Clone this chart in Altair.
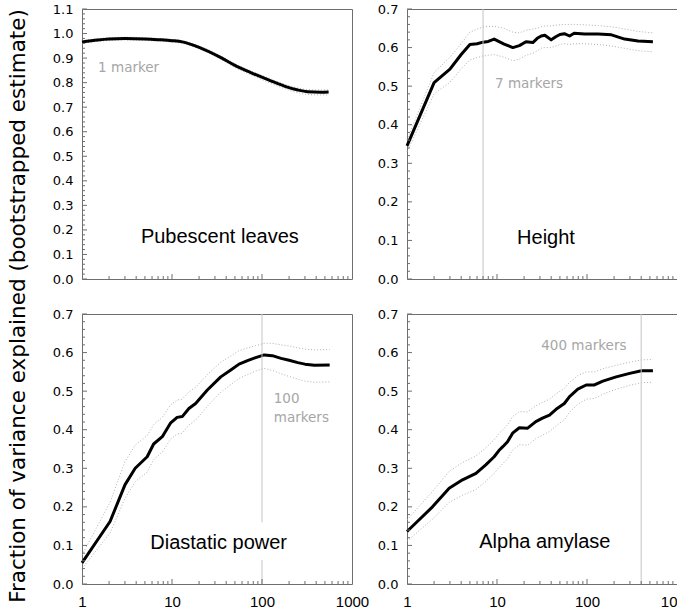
import altair as alt
import pandas as pd

# ---------------- data ----------------
# Pubescent leaves
pub_n = [1, 1.5, 2, 3, 5, 7, 10, 13, 20, 35, 50, 75, 120, 180, 250, 320, 450, 550]
pub_v = [0.966, 0.974, 0.978, 0.980, 0.978, 0.975, 0.971, 0.966, 0.944, 0.902, 0.870, 0.841,
         0.810, 0.785, 0.770, 0.763, 0.761, 0.762]
pub_lo = [0.960, 0.968, 0.972, 0.974, 0.972, 0.969, 0.965, 0.960, 0.938, 0.895, 0.862, 0.832,
          0.800, 0.775, 0.759, 0.752, 0.750, 0.750]
pub_hi = [0.971, 0.979, 0.983, 0.985, 0.983, 0.980, 0.976, 0.971, 0.950, 0.908, 0.877, 0.848,
          0.818, 0.793, 0.778, 0.772, 0.770, 0.771]

# Height
h_n = [1, 2, 3, 4, 5, 6, 7, 8, 9.3, 12, 15, 17.7, 21, 25, 28, 31, 34, 40, 45, 50, 56, 64, 72,
       94, 133, 187, 262, 369, 540]
h_v = [0.345, 0.509, 0.544, 0.582, 0.608, 0.610, 0.614, 0.616, 0.622, 0.609, 0.600, 0.605,
       0.615, 0.613, 0.624, 0.630, 0.632, 0.620, 0.628, 0.634, 0.636, 0.630, 0.637, 0.635,
       0.635, 0.633, 0.622, 0.617, 0.615]
h_lo = [0.330, 0.480, 0.510, 0.545, 0.568, 0.574, 0.578, 0.580, 0.582, 0.575, 0.566, 0.570,
        0.580, 0.585, 0.592, 0.598, 0.600, 0.600, 0.604, 0.608, 0.610, 0.608, 0.610, 0.610,
        0.608, 0.604, 0.598, 0.592, 0.589]
h_hi = [0.360, 0.535, 0.575, 0.610, 0.640, 0.648, 0.653, 0.655, 0.655, 0.650, 0.640, 0.638,
        0.645, 0.648, 0.650, 0.654, 0.656, 0.656, 0.658, 0.659, 0.660, 0.660, 0.660, 0.659,
        0.657, 0.654, 0.648, 0.642, 0.638]

# Diastatic power
d_n = [1, 2.05, 3.0, 3.9, 5.3, 6.25, 7.8, 9.6, 11.4, 13, 15.4, 18.3, 24.7, 34.8, 45, 55.6,
       69, 85, 106, 130, 163, 200, 250, 300, 383, 565]
d_v = [0.055, 0.162, 0.257, 0.300, 0.330, 0.363, 0.382, 0.417, 0.432, 0.434, 0.455, 0.468,
       0.503, 0.537, 0.555, 0.570, 0.579, 0.587, 0.594, 0.592, 0.585, 0.580, 0.574, 0.570,
       0.567, 0.568]
d_lo = [0.040, 0.132, 0.222, 0.265, 0.290, 0.323, 0.342, 0.375, 0.389, 0.391, 0.412, 0.425,
        0.461, 0.497, 0.517, 0.533, 0.543, 0.552, 0.559, 0.554, 0.545, 0.538, 0.531, 0.526,
        0.523, 0.524]
d_hi = [0.075, 0.212, 0.317, 0.360, 0.385, 0.413, 0.432, 0.464, 0.477, 0.479, 0.498, 0.510,
        0.543, 0.575, 0.591, 0.605, 0.612, 0.618, 0.624, 0.624, 0.620, 0.617, 0.612, 0.609,
        0.607, 0.608]

# Alpha amylase
a_n = [1, 1.92, 2.94, 4.14, 5.84, 7.5, 9.3, 10.5, 11.6, 13.1, 14.9, 17.7, 21.9, 27, 32, 38.3,
       45.3, 56, 64, 79, 98, 121, 150, 211, 298, 403, 540]
a_v = [0.136, 0.200, 0.248, 0.270, 0.287, 0.309, 0.330, 0.346, 0.356, 0.369, 0.391, 0.405,
       0.404, 0.421, 0.430, 0.438, 0.453, 0.468, 0.486, 0.505, 0.516, 0.516, 0.526, 0.537,
       0.546, 0.553, 0.553]
a_lo = [0.111, 0.168, 0.212, 0.230, 0.245, 0.266, 0.287, 0.302, 0.312, 0.325, 0.347, 0.361,
        0.360, 0.377, 0.386, 0.395, 0.410, 0.426, 0.445, 0.466, 0.479, 0.481, 0.492, 0.505,
        0.515, 0.522, 0.523]
a_hi = [0.166, 0.240, 0.292, 0.315, 0.332, 0.353, 0.374, 0.390, 0.400, 0.413, 0.434, 0.447,
        0.446, 0.462, 0.471, 0.479, 0.493, 0.507, 0.523, 0.540, 0.550, 0.550, 0.558, 0.567,
        0.575, 0.581, 0.582]

panel_names = ["Pubescent leaves", "Height", "Diastatic power", "Alpha amylase"]
name_n = [34, 35, 33, 34]
name_v = [0.145, 0.092, 0.091, 0.093]

notes = [["1 marker"], ["7 markers"], ["100", "markers"], ["400 markers"]]
note_n = [[1.51], [9.5], [135, 135], [31]]
note_v = [[0.844], [0.496], [0.468, 0.421], [0.607]]

# vertical marker-count lines (x, y from, y to)
rule_x = [[], [7], [100, 100], [400]]
rule_y0 = [[], [0.0], [0.16, 0.0], [0.0]]
rule_y1 = [[], [0.7], [0.7, 0.062], [0.7]]

y_max = [1.1, 0.7, 0.7, 0.7]
x_major_labels = [1, 10, 100, 1000]
x_major_ticks = [10, 100]
x_minor_ticks = [2, 3, 4, 5, 6, 7, 8, 9, 20, 30, 40, 50, 60, 70, 80, 90,
                 200, 300, 400, 500, 600, 700, 800, 900]

W, H = 270, 270
BOX = "#6e6e6e"


def panel(i, n, v, lo, hi, show_x, interp):
    ymax = y_max[i]
    n_major = int(round(ymax * 10))
    y_major = [round(k / 10, 1) for k in range(0, n_major + 1)]
    y_minor = [round(k / 50, 2) for k in range(0, n_major * 5 + 1) if k % 5 != 0]

    xs = alt.Scale(type="log", domain=[1, 1000], nice=False)
    ys = alt.Scale(domain=[0, ymax], nice=False, zero=False)

    if show_x:
        xaxis = alt.Axis(values=x_major_labels, format="d", labelFlush=False,
                         labelFont="Liberation Sans", labelFontSize=15, labelPadding=10,
                         title=None, grid=False, ticks=False, domain=False)
    else:
        xaxis = alt.Axis(values=x_major_labels, labels=False, title=None, grid=False,
                         ticks=False, domain=False)
    yaxis = alt.Axis(values=y_major, format=".1f", title=None, labelPadding=9,
                     grid=False, ticks=False, domain=False, labelFont="DejaVu Sans",
                     labelFontSize=13, labelColor="black")

    def X(f):
        return alt.X(f, scale=xs, axis=xaxis)

    def Y(f):
        return alt.Y(f, scale=ys, axis=yaxis)

    df = pd.DataFrame({"n": n, "v": v, "lo": lo, "hi": hi})
    base = alt.Chart(df)
    band_lo = base.mark_line(color="#b0b0b0", strokeDash=[1, 2], strokeWidth=1,
                             interpolate=interp).encode(x=X("n:Q"), y=Y("lo:Q"))
    band_hi = base.mark_line(color="#b0b0b0", strokeDash=[1, 2], strokeWidth=1,
                             interpolate=interp).encode(x=X("n:Q"), y=Y("hi:Q"))
    main = base.mark_line(color="black", strokeWidth=3, interpolate=interp,
                          strokeJoin="round").encode(x=X("n:Q"), y=Y("v:Q"))

    layers = [band_lo, band_hi, main]

    if rule_x[i]:
        rdf = pd.DataFrame({"x": rule_x[i], "y0": rule_y0[i], "y1": rule_y1[i]})
        layers.append(alt.Chart(rdf).mark_rule(color="#c4c4c4", strokeWidth=1).encode(
            x=X("x:Q"), y=Y("y0:Q"), y2="y1:Q"))

    # inward ticks on the y axis
    ymaj = pd.DataFrame({"t": y_major})
    ymin = pd.DataFrame({"t": y_minor})
    layers.append(alt.Chart(ymaj).mark_rule(color=BOX, strokeWidth=1).encode(
        y=Y("t:Q"), x=alt.value(0), x2=alt.value(5)))
    layers.append(alt.Chart(ymin).mark_rule(color=BOX, strokeWidth=1).encode(
        y=Y("t:Q"), x=alt.value(0), x2=alt.value(3)))
    # inward ticks on the x axis
    xmaj = pd.DataFrame({"t": x_major_ticks})
    xmin = pd.DataFrame({"t": x_minor_ticks})
    layers.append(alt.Chart(xmaj).mark_rule(color=BOX, strokeWidth=1).encode(
        x=X("t:Q"), y=alt.value(H), y2=alt.value(H - 5)))
    layers.append(alt.Chart(xmin).mark_rule(color=BOX, strokeWidth=1).encode(
        x=X("t:Q"), y=alt.value(H), y2=alt.value(H - 3)))

    ndf = pd.DataFrame({"n": [name_n[i]], "v": [name_v[i]], "s": [panel_names[i]]})
    layers.append(alt.Chart(ndf).mark_text(font="Liberation Sans", fontSize=20,
                                           color="black", align="center",
                                           baseline="alphabetic").encode(
        x=X("n:Q"), y=Y("v:Q"), text="s:N"))

    tdf = pd.DataFrame({"n": note_n[i], "v": note_v[i], "s": notes[i]})
    layers.append(alt.Chart(tdf).mark_text(font="DejaVu Sans", fontSize=13.5,
                                           color="#a6a6a6", align="left",
                                           baseline="alphabetic").encode(
        x=X("n:Q"), y=Y("v:Q"), text="s:N"))

    return alt.layer(*layers).properties(width=W, height=H)


p1 = panel(0, pub_n, pub_v, pub_lo, pub_hi, False, "monotone")
p2 = panel(1, h_n, h_v, h_lo, h_hi, False, "linear")
p3 = panel(2, d_n, d_v, d_lo, d_hi, True, "linear")
p4 = panel(3, a_n, a_v, a_lo, a_hi, True, "linear")

chart = alt.concat(p1, p2, p3, p4, columns=2, spacing={"row": 35, "column": 55},
                   bounds="flush").properties(
    title=alt.TitleParams(
        text="Fraction of variance explained (bootstrapped estimate)",
        orient="left", anchor="middle", font="DejaVu Sans", fontSize=21.5,
        fontWeight="normal", color="black", offset=22),
    padding={"left": 8, "top": 2, "right": -18, "bottom": 0},
    background="white",
).configure_view(stroke=BOX, strokeWidth=1).configure_axis(
    domain=False, ticks=False, grid=False, labelFont="DejaVu Sans", labelFontSize=13,
    labelColor="black"
)

chart.save("out.html", embed_options={"renderer": "svg", "actions": False})
